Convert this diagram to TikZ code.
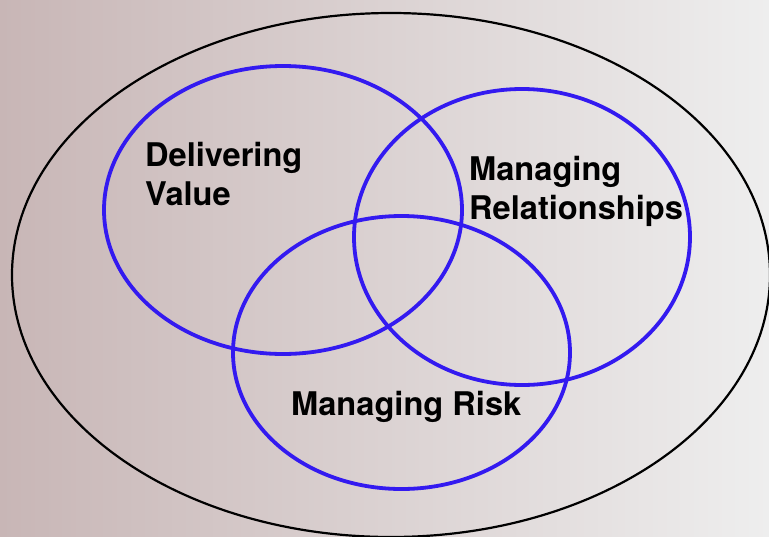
\documentclass[tikz,border=0pt]{standalone}
\usepackage{fontspec}
\setmainfont{TeX Gyre Heros}
\usetikzlibrary{shapes.geometric}
\definecolor{vennblue}{RGB}{51,26,240}
\definecolor{bgleft}{RGB}{200,182,182}
\definecolor{bgright}{RGB}{238,238,238}

\begin{document}
\begin{tikzpicture}[x=1pt,y=-1pt]
\useasboundingbox (0,0) rectangle (769,536);
\clip (0,0) rectangle (769,536);
\shade[left color=bgleft,right color=bgright] (0,0) rectangle (769,536);
\begin{scope}[every node/.style={ellipse,inner sep=0pt,outer sep=0pt}]
    \node[draw=black,line width=2.2pt,minimum width=758pt,minimum height=524pt] (outer) at (391,275) {};
    \node[draw=vennblue,line width=3.8pt,minimum width=358pt,minimum height=288pt] (value) at (283,210) {};
    \node[draw=vennblue,line width=3.8pt,minimum width=336pt,minimum height=296pt] (relations) at (522,237) {};
    \node[draw=vennblue,line width=3.8pt,minimum width=337pt,minimum height=273pt] (risk) at (401.5,352.5) {};
\end{scope}
\begin{scope}[every node/.style={font=\fontsize{32.6}{39}\selectfont\bfseries,align=left,inner sep=0pt}]
    \node[anchor=north west] (valuetext) at (145,142.5) {Delivering\\Value};
    \node[anchor=north west] (relationstext) at (469,156) {Managing\\Relationships};
    \node[anchor=base west] (risktext) at (291,415) {Managing Risk};
\end{scope}
\end{tikzpicture}
\end{document}
